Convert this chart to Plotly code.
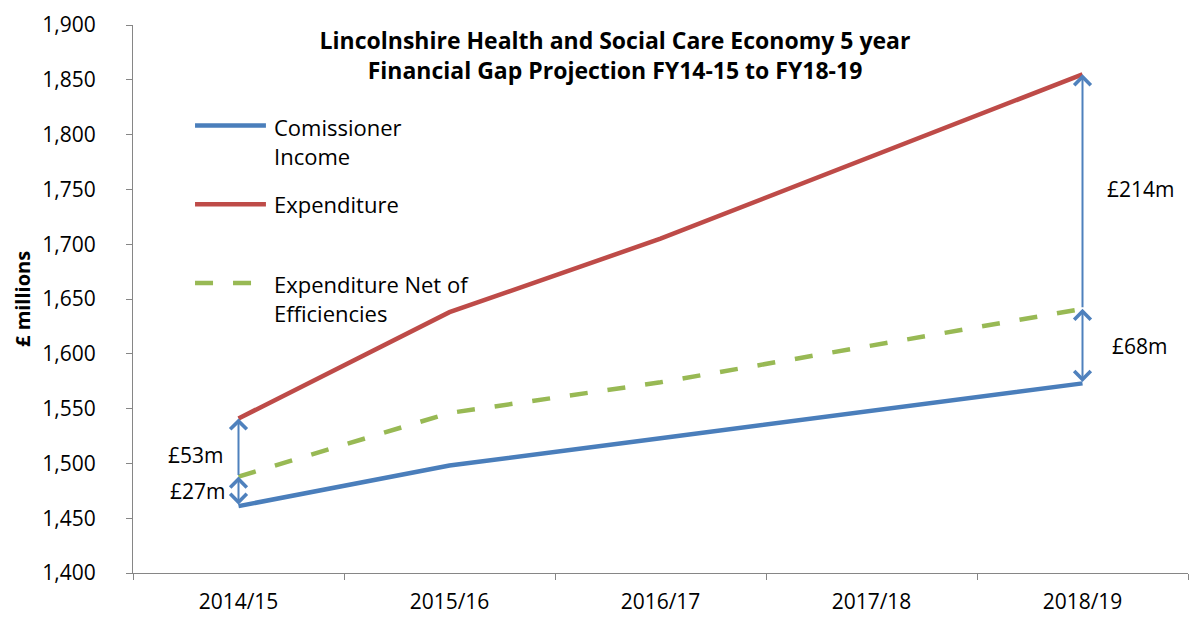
import plotly.graph_objects as go

# ---- data ----
years = ["2014/15", "2015/16", "2016/17", "2017/18", "2018/19"]
commissioner_income = [1461, 1498, 1523, 1548, 1573]
expenditure = [1541, 1638, 1705, 1780, 1855]
expenditure_net = [1488, 1546, 1574, 1608, 1641]
series_names = ["Comissioner<br>Income", "Expenditure", "Expenditure Net of<br>Efficiencies"]
gap_labels = ["£53m", "£27m", "£214m", "£68m"]
y_ticks = list(range(1400, 1901, 50))

BLUE = "#4A7EBB"
RED = "#BE4B48"
GREEN = "#98B954"
ARROW = "#4F81BD"
AXIS = "#868686"
FONT = "Open Sans"
LW = 4.5

fig = go.Figure()
fig.add_trace(go.Scatter(x=years, y=commissioner_income, mode="lines",
                         line=dict(color=BLUE, width=LW), name="Comissioner Income"))
fig.add_trace(go.Scatter(x=years, y=expenditure, mode="lines",
                         line=dict(color=RED, width=LW), name="Expenditure"))
fig.add_trace(go.Scatter(x=years, y=expenditure_net, mode="lines",
                         line=dict(color=GREEN, width=LW, dash="18px,20px"),
                         name="Expenditure Net of Efficiencies"))

annotations = []

# gap arrows
def arrow(xcat, y_head, y_tail, both):
    annotations.append(dict(
        x=xcat, y=y_head, ax=xcat, ay=y_tail, xref="x", yref="y",
        axref="x", ayref="y", text="", showarrow=True,
        arrowhead=4, startarrowhead=4, arrowsize=1.6, startarrowsize=1.6,
        arrowwidth=2, arrowcolor=ARROW,
        arrowside="end+start" if both else "end"))

arrow(years[0], expenditure[0], expenditure_net[0], False)
arrow(years[0], expenditure_net[0], commissioner_income[0], True)
arrow(years[-1], expenditure[-1], expenditure_net[-1], False)
arrow(years[-1], expenditure_net[-1], commissioner_income[-1], True)

# gap labels
lab_font = dict(family=FONT, size=21, color="black")
annotations.append(dict(x=years[0], y=(expenditure[0] + expenditure_net[0]) / 2 - 7,
                        text=gap_labels[0], showarrow=False, xanchor="right",
                        xshift=-14, font=lab_font))
annotations.append(dict(x=years[0], y=(expenditure_net[0] + commissioner_income[0]) / 2,
                        text=gap_labels[1], showarrow=False, xanchor="right",
                        xshift=-12, font=lab_font))
annotations.append(dict(x=years[-1], y=(expenditure[-1] + expenditure_net[-1]) / 2 + 2,
                        text=gap_labels[2], showarrow=False, xanchor="left",
                        xshift=22, font=lab_font))
annotations.append(dict(x=years[-1], y=(expenditure_net[-1] + commissioner_income[-1]) / 2,
                        text=gap_labels[3], showarrow=False, xanchor="left",
                        xshift=27, font=lab_font))

# y axis title
annotations.append(dict(xref="paper", yref="paper", x=0, y=0.5, xshift=-111,
                        xanchor="center", yanchor="middle",
                        text="<b>£ millions</b>", textangle=-90, showarrow=False,
                        font=dict(family=FONT, size=20, color="black")))

# manual legend (long sample lines like the original)
leg_font = dict(family=FONT, size=22, color="black")
leg_y = [0.8164, 0.6727, 0.529]
leg_text_y = [0.787, 0.6727, 0.5009]
leg_colors = [BLUE, RED, GREEN]
leg_dash = ["solid", "solid", "18px,20px"]
shapes = []
for i in range(3):
    shapes.append(dict(type="line", xref="paper", yref="paper",
                       x0=0.0588, x1=0.126, y0=leg_y[i], y1=leg_y[i],
                       line=dict(color=leg_colors[i], width=LW, dash=leg_dash[i])))
    annotations.append(dict(xref="paper", yref="paper", x=0.1318, y=leg_text_y[i],
                            xanchor="left", yanchor="middle", align="left",
                            text=series_names[i], showarrow=False, font=leg_font))

fig.update_layout(
    width=1198, height=628,
    margin=dict(l=133, r=10, t=23, b=55),
    paper_bgcolor="white", plot_bgcolor="white",
    showlegend=False,
    font=dict(family=FONT, size=21, color="black"),
    title=dict(text="<b>Lincolnshire Health and Social Care Economy 5 year<br>"
                    "Financial Gap Projection FY14-15 to FY18-19</b>",
               x=615 / 1198, xanchor="center", xref="container",
               y=1 - 49 / 628, yanchor="middle", yref="container",
               font=dict(family=FONT, size=23, color="black")),
    xaxis=dict(type="category", range=[-0.5, 4.5], tickson="boundaries",
               showgrid=False, zeroline=False, showline=True, linecolor=AXIS,
               linewidth=1, ticks="outside", ticklen=6, tickcolor=AXIS,
               ticklabelstandoff=10, tickfont=dict(family=FONT, size=21, color="black")),
    yaxis=dict(range=[1400, 1900], tickvals=y_ticks, tickformat=",",
               showgrid=False, zeroline=False, showline=True, linecolor=AXIS,
               linewidth=1, ticks="outside", ticklen=6, tickcolor=AXIS,
               ticklabelstandoff=26, tickfont=dict(family=FONT, size=21, color="black")),
    annotations=annotations, shapes=shapes,
)

fig.write_html("out.html")
